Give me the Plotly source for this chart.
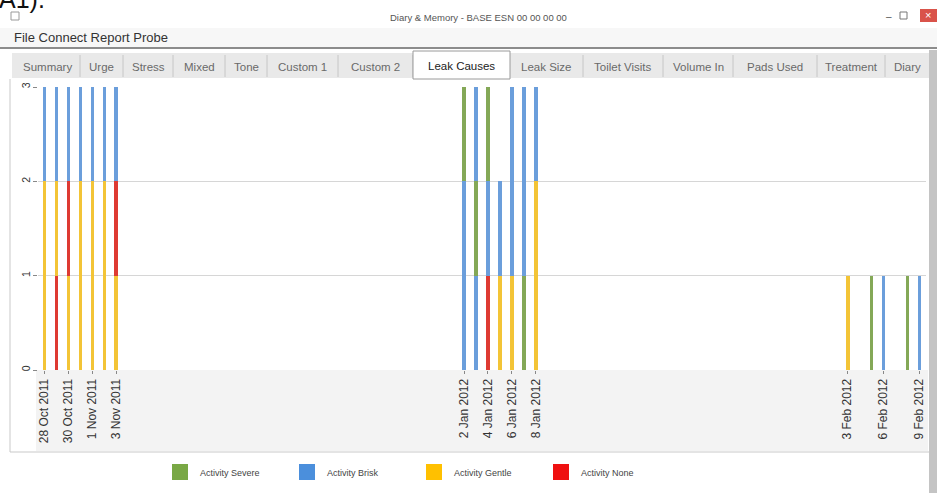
import plotly.graph_objects as go

# ---------------- data ----------------
dates = ["2011-10-28", "2011-10-29", "2011-10-30", "2011-10-31", "2011-11-01", "2011-11-02", "2011-11-03",
         "2012-01-02", "2012-01-03", "2012-01-04", "2012-01-05", "2012-01-06", "2012-01-07", "2012-01-08",
         "2012-02-03", "2012-02-05", "2012-02-06", "2012-02-08", "2012-02-09"]
# leak events per day, stacked bottom -> top, by cause
day_events = [
    ["Gentle", "Gentle", "Brisk"],
    ["None", "Gentle", "Brisk"],
    ["Gentle", "None", "Brisk"],
    ["Gentle", "Gentle", "Brisk"],
    ["Gentle", "Gentle", "Brisk"],
    ["Gentle", "Gentle", "Brisk"],
    ["Gentle", "None", "Brisk"],
    ["Brisk", "Brisk", "Severe"],
    ["Brisk", "Severe", "Brisk"],
    ["None", "Brisk", "Severe"],
    ["Gentle", "Brisk"],
    ["Gentle", "Brisk", "Brisk"],
    ["Severe", "Brisk", "Brisk"],
    ["Gentle", "Gentle", "Brisk"],
    ["Gentle"],
    ["Severe"],
    ["Brisk"],
    ["Severe"],
    ["Brisk"],
]
causes = ["Severe", "Brisk", "Gentle", "None"]
legend_names = ["Activity Severe", "Activity Brisk", "Activity Gentle", "Activity None"]
bar_colors = ["#84a857", "#6b9edb", "#f3c436", "#de3a32"]
legend_colors = ["#79a845", "#4b8fdc", "#ffc000", "#ef1010"]
tick_dates = ["2011-10-28", "2011-10-30", "2011-11-01", "2011-11-03",
              "2012-01-02", "2012-01-04", "2012-01-06", "2012-01-08",
              "2012-02-03", "2012-02-06", "2012-02-09"]
y_ticks = [0, 1, 2, 3]
tab_names = ["Summary", "Urge", "Stress", "Mixed", "Tone", "Custom 1", "Custom 2", "Leak Causes",
             "Leak Size", "Toilet Visits", "Volume In", "Pads Used", "Treatment", "Diary"]
selected_tab = "Leak Causes"
menu_text = "File Connect Report Probe"
window_title = "Diary & Memory - BASE ESN 00 00 00 00"

# ---------------- layout geometry ----------------
W, H = 937, 493
L, R, T, B = 38, 11, 87, 123
PW, PH = W - L - R, H - T - B
def px(x): return (x - L) / PW
def py(y): return (H - B - y) / PH

FONT = "Liberation Sans"
DAY_MS = 86400000

fig = go.Figure()

# stacked event bars (one trace per cause, base = position in the day's stack)
for cause, name, col in zip(causes, legend_names, bar_colors):
    xs, bases = [], []
    for d, evs in zip(dates, day_events):
        for i, e in enumerate(evs):
            if e == cause:
                xs.append(d)
                bases.append(i)
    fig.add_trace(go.Bar(x=xs, y=[1] * len(xs), base=bases, name=name,
                         marker=dict(color=col, line=dict(width=0)),
                         width=0.32 * DAY_MS, showlegend=False, legendgroup=name))

# legend proxies
for name, col in zip(legend_names, legend_colors):
    fig.add_trace(go.Scatter(x=[None], y=[None], mode="markers", name=name, legendgroup=name,
                             marker=dict(symbol="square", size=16, color=col, line=dict(width=0))))

shapes = []
def rect(x0, y0, x1, y1, fill=None, line=None, lw=0, layer="below"):
    shapes.append(dict(type="rect", xref="paper", yref="paper",
                       x0=px(x0), x1=px(x1), y0=py(y0), y1=py(y1),
                       fillcolor=fill if fill else "rgba(0,0,0,0)",
                       line=dict(color=line if line else "rgba(0,0,0,0)", width=lw), layer=layer))
def hline(x0, x1, y, color, w=1, layer="below"):
    shapes.append(dict(type="line", xref="paper", yref="paper", x0=px(x0), x1=px(x1),
                       y0=py(y), y1=py(y), line=dict(color=color, width=w), layer=layer))
def vline(x, y0, y1, color, w=1, layer="below"):
    shapes.append(dict(type="line", xref="paper", yref="paper", x0=px(x), x1=px(x),
                       y0=py(y0), y1=py(y1), line=dict(color=color, width=w), layer=layer))

annotations = []
def text(x, y, s, size=11, color="#333", xanchor="left", yanchor="middle"):
    annotations.append(dict(xref="paper", yref="paper", x=px(x), y=py(y), text=s, showarrow=False,
                            xanchor=xanchor, yanchor=yanchor,
                            font=dict(family=FONT, size=size, color=color)))

# window chrome
text(-3, 15, "A1).", size=25, color="#111", yanchor="bottom")
rect(11, 12, 19, 20, line="#9a9a9a", lw=1)
text(478, 17, window_title, size=9.5, color="#555", xanchor="center")
text(889, 16, "\u2013", size=10, color="#555", xanchor="center")
rect(900, 12, 907, 19, line="#777", lw=1)
rect(920, 9, 937, 22, fill="#d9534a")
text(928, 15, "\u00d7", size=11, color="#fff", xanchor="center")
rect(0, 28, 937, 47, fill="#f7f7f7")
text(12, 37, menu_text, size=13, color="#333")
hline(0, 937, 48, "#8c8c8c", w=2)
rect(12, 53, 930, 78, fill="#e9e9e9")
tab_edges = [15, 80, 123, 173, 225, 267, 338, 413, 510, 583, 663, 733, 817, 885, 930]
for i, name in enumerate(tab_names):
    x0, x1 = tab_edges[i], tab_edges[i + 1]
    if name == selected_tab:
        rect(x0, 51, x1, 79, fill="#ffffff", line="#9a9a9a", lw=1, layer="above")
        text((x0 + x1) / 2, 66, name, size=11.5, color="#222", xanchor="center")
    else:
        vline(x1, 55, 77, "#c6c6c6")
        text((x0 + x1) / 2, 67, name, size=11.5, color="#6a6a6a", xanchor="center")
vline(10, 79, 452, "#c9c9c9")
hline(10, 930, 452, "#c9c9c9")
rect(36, 370, 928, 451, fill="#f3f3f3")
rect(929, 50, 937, 493, fill="#c4c4c4")

fig.update_layout(
    width=W, height=H,
    margin=dict(l=L, r=R, t=T, b=B, pad=0, autoexpand=False),
    paper_bgcolor="#ffffff", plot_bgcolor="rgba(0,0,0,0)",
    barmode="overlay", bargap=0,
    font=dict(family=FONT, color="#444"),
    shapes=shapes, annotations=annotations,
    showlegend=True,
    legend=dict(orientation="h", x=px(160), y=py(472), xanchor="left", yanchor="middle",
                entrywidth=82, entrywidthmode="pixels", itemclick=False, itemdoubleclick=False,
                font=dict(family=FONT, size=9, color="#444"), bgcolor="rgba(0,0,0,0)"),
    xaxis=dict(type="date", range=["2011-10-27 11:00", "2012-02-09 13:00"],
               rangebreaks=[dict(bounds=["2011-11-20", "2011-12-21"])],
               tickvals=tick_dates, tickformat="%-d %b %Y", tickangle=-90,
               ticks="outside", ticklen=3, tickcolor="#888",
               tickfont=dict(family=FONT, size=12, color="#333"),
               showgrid=False, zeroline=False, showline=False, fixedrange=True),
    yaxis=dict(range=[0, 3], tickvals=y_ticks, tickangle=-90,
               ticks="outside", ticklen=4, tickcolor="#888", ticklabelstandoff=-1,
               tickfont=dict(family=FONT, size=10.5, color="#333"),
               showgrid=True, gridcolor="#d6d6d6", gridwidth=1,
               zeroline=False, showline=False, fixedrange=True),
)

fig.write_html("out.html", config={"displayModeBar": False},
               post_script="document.body.style.margin='0';")
